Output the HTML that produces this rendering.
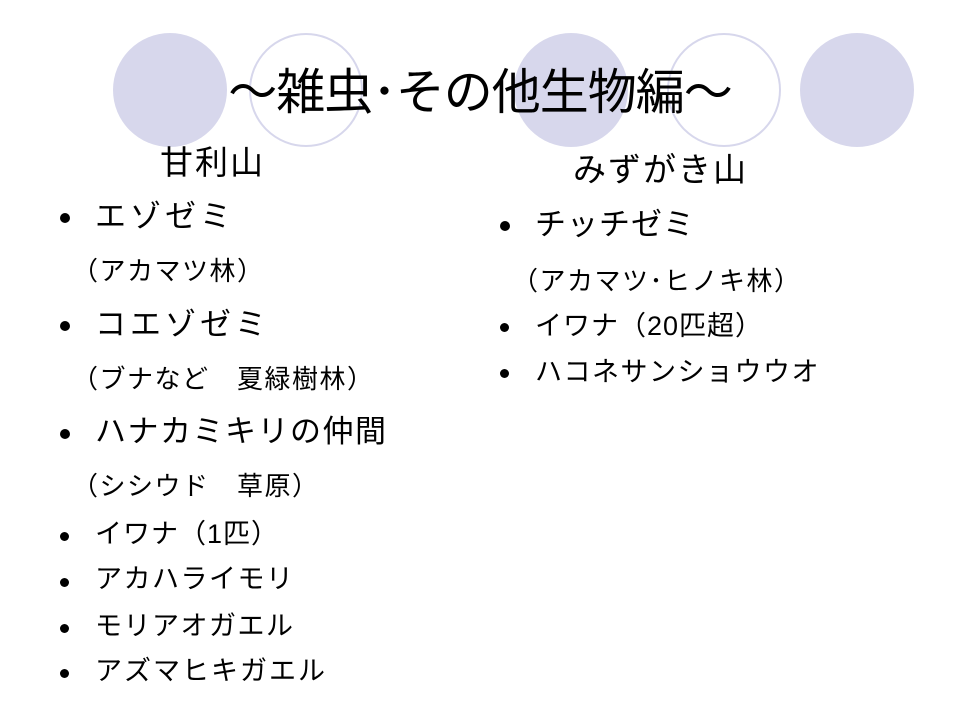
<!DOCTYPE html>
<html><head><meta charset="utf-8"><style>
body{margin:0;width:960px;height:720px;background:#fff;position:relative;overflow:hidden;font-family:"Liberation Sans","Noto Sans CJK JP",sans-serif;color:#000}
.c{position:absolute;top:33px;width:114px;height:114px;border-radius:50%;box-sizing:border-box}
.f{background:#d7d7ec}
.o{border:2px solid #d7d7ec;background:transparent}
.t{position:absolute;white-space:nowrap;line-height:1}
.b{position:absolute;width:10px;height:10px;border-radius:50%;background:#000}
</style></head><body>
<div class="c f" style="left:113px"></div>
<div class="c o" style="left:249px"></div>
<div class="c f" style="left:514px"></div>
<div class="c o" style="left:667px"></div>
<div class="c f" style="left:800px"></div>
<div class="t" style="left:200px;top:69px;font-size:49px;width:560px;text-align:center;letter-spacing:-1px">～雑虫･その他生物編～</div>

<div class="t" style="left:160px;top:146px;font-size:33px;letter-spacing:2px">甘利山</div>
<div class="b" style="left:60px;top:213px"></div>
<div class="t" style="left:95px;top:201px;font-size:31px;letter-spacing:4px">エゾゼミ</div>
<div class="t" style="left:72px;top:258px;font-size:26px;letter-spacing:1.5px">（アカマツ林）</div>
<div class="b" style="left:60px;top:321px"></div>
<div class="t" style="left:95px;top:309px;font-size:31px;letter-spacing:4px">コエゾゼミ</div>
<div class="t" style="left:72px;top:366px;font-size:26px;letter-spacing:1.5px">（ブナなど　夏緑樹林）</div>
<div class="b" style="left:60px;top:429px"></div>
<div class="t" style="left:95px;top:416px;font-size:31px;letter-spacing:1.5px">ハナカミキリの仲間</div>
<div class="t" style="left:72px;top:473px;font-size:26px;letter-spacing:1.5px">（シシウド　草原）</div>
<div class="b" style="left:60px;top:532px;width:9px;height:9px"></div>
<div class="t" style="left:95px;top:521px;font-size:27px;letter-spacing:1px">イワナ（1匹）</div>
<div class="b" style="left:60px;top:578px;width:9px;height:9px"></div>
<div class="t" style="left:95px;top:566px;font-size:27px;letter-spacing:1.5px">アカハライモリ</div>
<div class="b" style="left:60px;top:624px;width:9px;height:9px"></div>
<div class="t" style="left:95px;top:613px;font-size:27px;letter-spacing:1.5px">モリアオガエル</div>
<div class="b" style="left:60px;top:669px;width:9px;height:9px"></div>
<div class="t" style="left:95px;top:658px;font-size:27px;letter-spacing:2px">アズマヒキガエル</div>

<div class="t" style="left:573px;top:153px;font-size:33px;letter-spacing:2px">みずがき山</div>
<div class="b" style="left:500px;top:221px"></div>
<div class="t" style="left:535px;top:209px;font-size:31px;letter-spacing:1px">チッチゼミ</div>
<div class="t" style="left:512px;top:268px;font-size:26px;letter-spacing:1.5px">（アカマツ･ヒノキ林）</div>
<div class="b" style="left:500px;top:323px;width:9px;height:9px"></div>
<div class="t" style="left:535px;top:313px;font-size:27px;letter-spacing:1px">イワナ（20匹超）</div>
<div class="b" style="left:500px;top:369px;width:9px;height:9px"></div>
<div class="t" style="left:535px;top:359px;font-size:27px;letter-spacing:1.5px">ハコネサンショウウオ</div>
</body></html>
